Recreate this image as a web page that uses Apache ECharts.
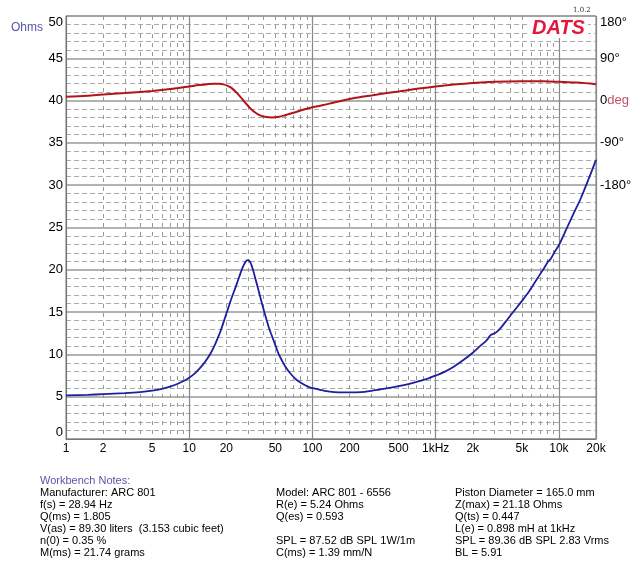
<!DOCTYPE html>
<html><head><meta charset="utf-8">
<script src="https://cdn.jsdelivr.net/npm/echarts@6/dist/echarts.min.js"></script>
<style>html,body{margin:0;padding:0;background:#fff}#c{width:640px;height:568px}</style>
</head><body><div id="c"></div>
<script>
// Impedance (Ohms) vs frequency (Hz)
const impFreq = [1,1.5,2,3,4,5,6,7,8,9,10,11,12,13,14,15,16,17,18,20,22,24,25,26,27,28,29,30,31,32,33,34.5,36,38,40,42,44,46,50,53,56,60,67,75,85,95,100,105,115,130,150,175,200,250,300,350,400,500,600,700,850,1000,1200,1400,1700,2000,2300,2600,2800,2950,3100,3400,3800,4300,5000,5700,6500,7500,8200,8600,9300,10000,11500,13000,15000,17500,20000];
const impedance = [5.15,5.22,5.3,5.42,5.55,5.72,5.93,6.2,6.5,6.85,7.25,7.7,8.25,8.85,9.5,10.2,11.0,11.9,12.8,14.8,16.6,18.1,18.85,19.55,20.2,20.7,21.05,21.15,21.0,20.55,19.95,18.9,17.9,16.6,15.4,14.3,13.3,12.5,11.1,10.1,9.4,8.6,7.65,6.95,6.45,6.1,6.0,5.95,5.82,5.65,5.55,5.5,5.5,5.55,5.7,5.85,5.98,6.25,6.5,6.75,7.1,7.5,8.0,8.55,9.4,10.2,11.0,11.7,12.3,12.45,12.6,13.2,14.1,15.1,16.3,17.4,18.7,20.1,21.0,21.3,22.2,22.9,24.8,26.5,28.4,30.8,33.0];
// Phase (degrees) vs frequency (Hz)
const phaseFreq = [1,1.5,2,3,4,5,6,7,8,10,12,14,16,17.5,19,20.5,22,24,26,28,30,32,35,38,42,47,52,60,70,85,100,120,150,200,250,300,400,500,700,1000,1400,2000,3000,5000,7500,10000,14000,20000];
const phase = [8,10.5,13,16,18.5,20.5,22.5,24.5,26.5,30,33,35,36,36,34.5,31.5,27,18,8,-2,-11,-19,-27,-32,-35,-36,-35,-31,-26,-19,-14,-10,-4,3.5,8,11,16,19.5,25,30,34,37.5,40,41,41,40,38.5,35];
// Axis labels
const xLabelValues = [1,2,5,10,20,50,100,200,500,1000,2000,5000,10000,20000];
const xLabelTexts = ['1','2','5','10','20','50','100','200','500','1kHz','2k','5k','10k','20k'];
const minorFreqs = [2,3,4,5,6,7,8,9,20,30,40,50,60,70,80,90,200,300,400,500,600,700,800,900,2000,3000,4000,5000,6000,7000,8000,9000];
const phaseLabelValues = [180,90,0,-90,-180];
// Notes
const notesTitle = 'Workbench Notes:';
const notesCol1 = ['Manufacturer: ARC 801','f(s) = 28.94 Hz','Q(ms) = 1.805','V(as) = 89.30 liters  (3.153 cubic feet)','n(0) = 0.35 %','M(ms) = 21.74 grams'];
const notesCol2 = ['Model: ARC 801 - 6556','R(e) = 5.24 Ohms','Q(es) = 0.593','','SPL = 87.52 dB SPL 1W/1m','C(ms) = 1.39 mm/N'];
const notesCol3 = ['Piston Diameter = 165.0 mm','Z(max) = 21.18 Ohms','Q(ts) = 0.447','L(e) = 0.898 mH at 1kHz','SPL = 89.36 dB SPL 2.83 Vrms','BL = 5.91'];

const FONT = '"Liberation Sans", Arial, Helvetica, sans-serif';
const chart = echarts.init(document.getElementById('c'), null, {renderer: 'canvas'});
const zip = (a, b) => a.map((v, i) => [v, b[i]]);

chart.setOption({
  animation: false,
  backgroundColor: '#fff',
  grid: {left: 66, right: 44, top: 16, bottom: 129, show: true, borderColor: '#777', borderWidth: 1},
  xAxis: [{
    type: 'log', logBase: 10, min: 1, max: 20000,
    axisLine: {show: true, lineStyle: {color: '#777', width: 1}},
    axisTick: {show: false},
    splitLine: {show: true, lineStyle: {color: '#888', width: 1.2}},
    minorSplitLine: {show: false},
    axisLabel: {
      customValues: xLabelValues, margin: 4,
      color: '#000', fontSize: 12, fontFamily: FONT,
      formatter: v => {
        let best = 0;
        xLabelValues.forEach((x, i) => { if (Math.abs(Math.log10(x) - Math.log10(v)) < Math.abs(Math.log10(xLabelValues[best]) - Math.log10(v))) best = i; });
        return xLabelTexts[best];
      }
    }
  }, {
    type: 'log', logBase: 10, min: 1, max: 20000, position: 'top',
    axisLine: {show: false}, axisLabel: {show: false},
    axisTick: {show: false, customValues: minorFreqs},
    splitLine: {show: true, lineStyle: {color: '#999', width: 1, type: [4, 5]}}
  }],
  yAxis: [{
    type: 'value', min: 0, max: 50, interval: 5,
    axisLine: {show: true, lineStyle: {color: '#777', width: 1}},
    axisTick: {show: false},
    splitLine: {show: true, lineStyle: {color: '#999', width: 1.5}},
    minorTick: {show: false, splitNumber: 5},
    minorSplitLine: {show: true, lineStyle: {color: '#aaa', width: 1, type: [5, 3]}},
    axisLabel: {color: '#000', fontSize: 13, fontFamily: FONT, margin: 3,
      verticalAlignMaxLabel: 'top', verticalAlignMinLabel: 'bottom'}
  }, {
    type: 'value', min: -720, max: 180, interval: 90, position: 'right',
    axisLine: {show: false}, axisTick: {show: false}, splitLine: {show: false},
    axisLabel: {
      margin: 4, fontSize: 13, fontFamily: FONT, color: '#000',
      verticalAlignMaxLabel: 'top',
      formatter: v => {
        if (phaseLabelValues.indexOf(v) < 0) return '';
        if (v === 0) return '{n|0}{d|deg}';
        return '{n|' + v + '°}';
      },
      rich: {
        n: {color: '#000', fontSize: 13, fontFamily: FONT},
        d: {color: '#c0506a', fontSize: 13, fontFamily: FONT}
      }
    }
  }],
  series: [{
    name: 'Phase', type: 'line', xAxisIndex: 0, yAxisIndex: 1,
    data: zip(phaseFreq, phase), smooth: 0.35, showSymbol: false,
    lineStyle: {color: '#b3141c', width: 2}
  }, {
    name: 'Impedance', type: 'line', xAxisIndex: 0, yAxisIndex: 0,
    data: zip(impFreq, impedance), smooth: 0.3, showSymbol: false,
    lineStyle: {color: '#1e1e9e', width: 1.8}
  }],
  graphic: [
    {type: 'text', left: 11, top: 22, style: {text: 'Ohms', fill: '#5656a8', font: '12px ' + FONT}},
    {type: 'text', left: 529, top: 17, z: 100, style: {text: 'DATS', fill: '#e3173e', font: 'italic bold 20px ' + FONT, backgroundColor: '#fff', padding: [1, 3, 0, 3]}},
    {type: 'text', left: 573, top: 7, z: 100, style: {text: '1.0.2', fill: '#333', font: '7px "DejaVu Serif", serif'}},
    {type: 'text', left: 40, top: 475, style: {text: notesTitle, fill: '#5656a8', font: '11px ' + FONT}},
    {type: 'text', left: 40, top: 487, style: {text: notesCol1.join('\n'), fill: '#000', font: '11px ' + FONT, lineHeight: 12}},
    {type: 'text', left: 276, top: 487, style: {text: notesCol2.join('\n'), fill: '#000', font: '11px ' + FONT, lineHeight: 12}},
    {type: 'text', left: 455, top: 487, style: {text: notesCol3.join('\n'), fill: '#000', font: '11px ' + FONT, lineHeight: 12}}
  ]
});
</script></body></html>
